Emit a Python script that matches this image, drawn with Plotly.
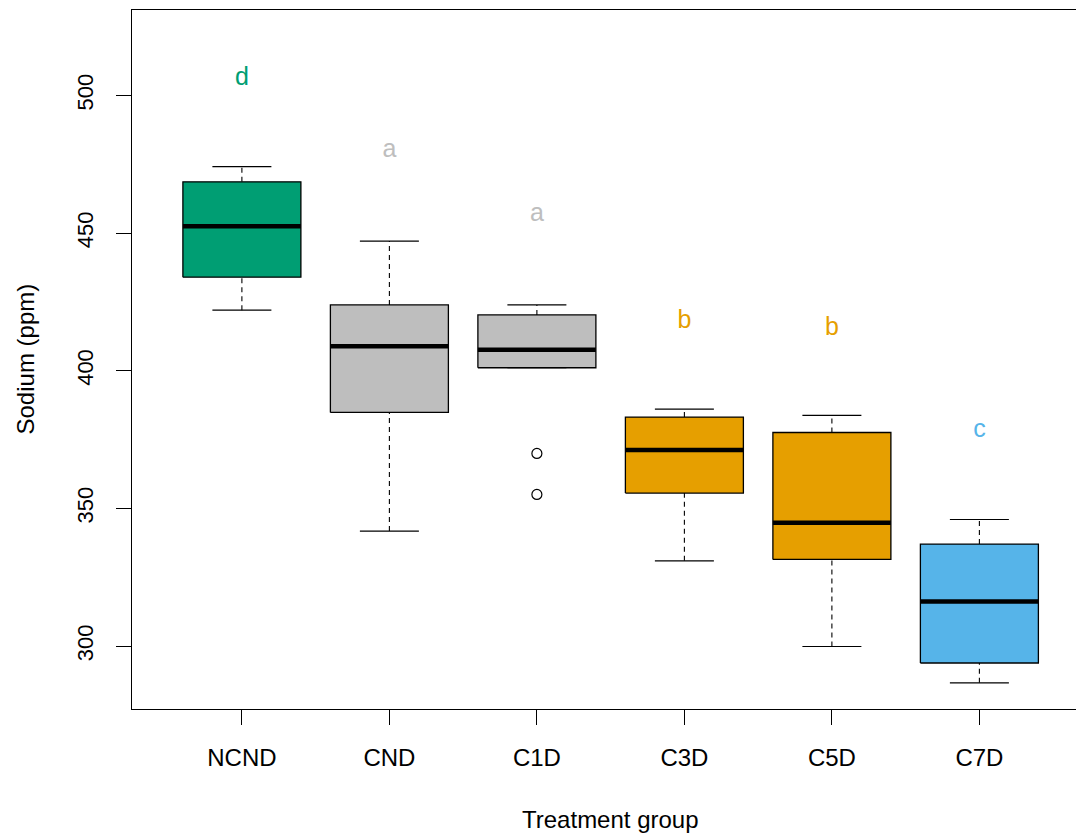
import plotly.graph_objects as go

# ---- data ----
groups = ["NCND", "CND", "C1D", "C3D", "C5D", "C7D"]
lower_whisker = [422.0, 341.8, 401.1, 331.0, 299.9, 286.7]
q1 = [434.0, 384.9, 401.1, 355.6, 331.5, 293.9]
median = [452.5, 408.9, 407.6, 371.2, 344.8, 316.2]
q3 = [468.6, 423.9, 420.3, 383.2, 377.6, 337.1]
upper_whisker = [474.1, 447.1, 423.9, 386.1, 383.8, 346.0]
outlier_group = ["C1D", "C1D"]
outlier_values = [370.0, 355.1]
letters = ["d", "a", "a", "b", "b", "c"]
letter_y = [506.0, 479.8, 456.8, 417.8, 415.4, 378.4]
colors = ["#009E73", "#BEBEBE", "#BEBEBE", "#E69F00", "#E69F00", "#56B4E9"]
y_ticks = [300, 350, 400, 450, 500]

FONT = "Liberation Sans, Arial, sans-serif"
BW = 0.4   # half box width
SW = 0.2   # half staple width

fig = go.Figure()
pos = {g: i + 1 for i, g in enumerate(groups)}

for i, g in enumerate(groups):
    x = pos[g]
    # whiskers (dashed)
    fig.add_trace(go.Scatter(x=[x, x], y=[q3[i], upper_whisker[i]], mode="lines",
                             line=dict(color="black", width=1.1, dash="5px,4px"),
                             hoverinfo="skip", showlegend=False))
    fig.add_trace(go.Scatter(x=[x, x], y=[lower_whisker[i], q1[i]], mode="lines",
                             line=dict(color="black", width=1.1, dash="5px,4px"),
                             hoverinfo="skip", showlegend=False))
    # staples
    fig.add_trace(go.Scatter(x=[x - SW, x + SW], y=[upper_whisker[i]] * 2, mode="lines",
                             line=dict(color="black", width=1.2),
                             hoverinfo="skip", showlegend=False))
    fig.add_trace(go.Scatter(x=[x - SW, x + SW], y=[lower_whisker[i]] * 2, mode="lines",
                             line=dict(color="black", width=1.2),
                             hoverinfo="skip", showlegend=False))
    # box
    fig.add_trace(go.Scatter(x=[x - BW, x + BW, x + BW, x - BW, x - BW],
                             y=[q1[i], q1[i], q3[i], q3[i], q1[i]],
                             mode="lines", fill="toself", fillcolor=colors[i],
                             line=dict(color="black", width=1.3),
                             hoverinfo="skip", showlegend=False))
    # median
    fig.add_trace(go.Scatter(x=[x - BW, x + BW], y=[median[i]] * 2, mode="lines",
                             line=dict(color="black", width=4.5),
                             hoverinfo="skip", showlegend=False))

# outliers
fig.add_trace(go.Scatter(x=[pos[g] for g in outlier_group], y=outlier_values, mode="markers",
                         marker=dict(symbol="circle-open", size=10, color="black",
                                     line=dict(width=1.2)),
                         hoverinfo="skip", showlegend=False))

# significance letters
fig.add_trace(go.Scatter(x=[pos[g] for g in groups], y=letter_y, mode="text",
                         text=letters, textposition="middle center",
                         textfont=dict(family=FONT, size=25, color=colors),
                         hoverinfo="skip", showlegend=False))

fig.update_layout(
    width=1076, height=834,
    margin=dict(l=132, r=0, t=10, b=125),
    paper_bgcolor="white", plot_bgcolor="white",
    font=dict(family=FONT, color="black"),
    xaxis=dict(range=[0.255, 6.655], tickvals=[pos[g] for g in groups], ticktext=groups,
               showgrid=False, zeroline=False, showline=True, mirror=True,
               linecolor="black", linewidth=1.3,
               ticks="outside", ticklen=15, tickwidth=1.2, tickcolor="black",
               tickfont=dict(family=FONT, size=24, color="black"),
               ticklabelstandoff=12),
    yaxis=dict(range=[277.2, 531.0], tickvals=y_ticks,
               showgrid=False, zeroline=False, showline=True,
               linecolor="black", linewidth=1.3,
               ticks="outside", ticklen=15, tickwidth=1.2, tickcolor="black",
               tickangle=-90, tickfont=dict(family=FONT, size=22, color="black"),
               ticklabelstandoff=14),
    annotations=[
        dict(text="Treatment group", xref="x", x=3.5, yref="paper", y=0,
             yanchor="middle", xanchor="center", yshift=-110, showarrow=False,
             font=dict(family=FONT, size=24, color="black")),
        dict(text="Sodium (ppm)", xref="paper", x=0, yref="paper", y=0.5,
             xanchor="center", yanchor="middle", xshift=-107, textangle=-90,
             showarrow=False, font=dict(family=FONT, size=24, color="black")),
    ],
)

fig.write_html("out.html")
